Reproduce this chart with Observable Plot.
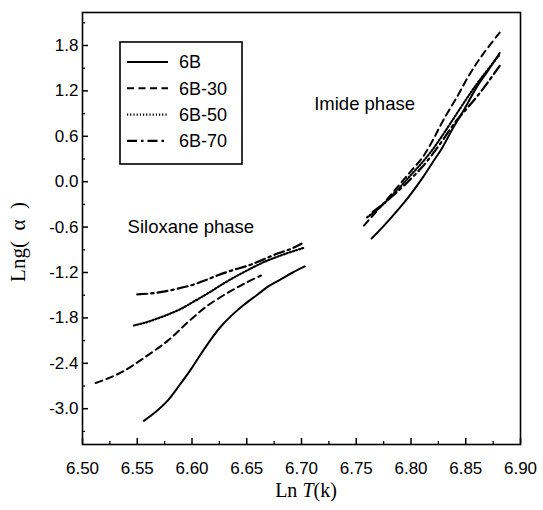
<!DOCTYPE html>
<html><head><meta charset="utf-8">
<script src="https://cdn.jsdelivr.net/npm/d3@7"></script>
<script src="https://cdn.jsdelivr.net/npm/@observablehq/plot@0.6"></script>
<style>body{margin:0;background:#fff}#chart{width:543px;height:510px}</style>
</head><body><div id="chart"></div>
<script>
// ---- data ----
const seriesNames = ["6B", "6B-30", "6B-50", "6B-70"];
const phaseNames = ["Siloxane phase", "Imide phase"];

// 6B
const x6B_sil = [6.556,6.567,6.578,6.588,6.599,6.608,6.617,6.626,6.636,6.648,6.660,6.670,6.681,6.692,6.703];
const y6B_sil = [-3.16,-3.04,-2.89,-2.70,-2.48,-2.28,-2.09,-1.92,-1.77,-1.62,-1.49,-1.38,-1.29,-1.20,-1.12];
const x6B_imi = [6.764,6.776,6.790,6.800,6.811,6.820,6.829,6.838,6.848,6.860,6.870,6.881];
const y6B_imi = [-0.75,-0.57,-0.34,-0.16,0.06,0.26,0.46,0.70,0.94,1.25,1.46,1.70];
// 6B-30
const x6B30_sil = [6.512,6.525,6.538,6.556,6.578,6.596,6.614,6.636,6.650,6.663];
const y6B30_sil = [-2.66,-2.59,-2.50,-2.33,-2.10,-1.86,-1.64,-1.44,-1.33,-1.24];
const x6B30_imi = [6.757,6.768,6.780,6.790,6.800,6.811,6.820,6.829,6.842,6.854,6.866,6.881];
const y6B30_imi = [-0.58,-0.40,-0.20,-0.03,0.14,0.33,0.55,0.80,1.12,1.43,1.69,1.97];
// 6B-50
const x6B50_sil = [6.547,6.558,6.568,6.579,6.590,6.602,6.614,6.626,6.639,6.652,6.666,6.684,6.703];
const y6B50_sil = [-1.90,-1.86,-1.81,-1.75,-1.68,-1.58,-1.48,-1.37,-1.26,-1.16,-1.06,-0.96,-0.87];
const x6B50_imi = [6.760,6.770,6.780,6.790,6.800,6.810,6.820,6.830,6.840,6.850,6.860,6.870,6.881];
const y6B50_imi = [-0.47,-0.36,-0.22,-0.07,0.09,0.25,0.43,0.64,0.86,1.08,1.29,1.48,1.68];
// 6B-70
const x6B70_sil = [6.550,6.560,6.571,6.585,6.599,6.611,6.623,6.637,6.651,6.665,6.678,6.690,6.700];
const y6B70_sil = [-1.49,-1.48,-1.46,-1.42,-1.37,-1.31,-1.24,-1.17,-1.11,-1.03,-0.95,-0.89,-0.82];
const x6B70_imi = [6.765,6.775,6.790,6.800,6.810,6.820,6.830,6.840,6.850,6.860,6.870,6.881];
const y6B70_imi = [-0.40,-0.29,-0.10,0.04,0.19,0.37,0.57,0.78,0.95,1.12,1.31,1.53];

// axis ticks
const xTicks = [6.50,6.55,6.60,6.65,6.70,6.75,6.80,6.85,6.90];
const xMinorTicks = [6.525,6.575,6.625,6.675,6.725,6.775,6.825,6.875];
const yTicks = [-3.0,-2.4,-1.8,-1.2,-0.6,0.0,0.6,1.2,1.8];
const yMinorTicks = [-3.3,-2.7,-2.1,-1.5,-0.9,-0.3,0.3,0.9,1.5,2.1];

// ---- build rows ----
const raw = {
  "6B": [[x6B_sil, y6B_sil], [x6B_imi, y6B_imi]],
  "6B-30": [[x6B30_sil, y6B30_sil], [x6B30_imi, y6B30_imi]],
  "6B-50": [[x6B50_sil, y6B50_sil], [x6B50_imi, y6B50_imi]],
  "6B-70": [[x6B70_sil, y6B70_sil], [x6B70_imi, y6B70_imi]]
};
const rows = [];
for (const s of seriesNames) {
  raw[s].forEach(([xs, ys], p) => xs.forEach((x, i) => rows.push({series: s, phase: phaseNames[p], x, y: ys[i]})));
}
const styles = {
  "6B": {dash: null, width: 2},
  "6B-30": {dash: "7,4.5", width: 2},
  "6B-50": {dash: "1.2,2", width: 2.2},
  "6B-70": {dash: "10,4,2.5,4", width: 2.2}
};

const sans = "'Liberation Sans', Arial, sans-serif";
const serif = "'Liberation Serif', 'Times New Roman', serif";

const lineMarks = seriesNames.map(s => Plot.line(rows.filter(d => d.series === s), {
  x: "x", y: "y", z: "phase", curve: "catmull-rom",
  stroke: "black", strokeWidth: styles[s].width, strokeDasharray: styles[s].dash
}));

const chart = Plot.plot({
  width: 543, height: 510,
  marginLeft: 82, marginRight: 23, marginTop: 12, marginBottom: 66,
  style: {fontFamily: sans, fontSize: "17px", color: "black", background: "white"},
  x: {domain: [6.5, 6.9]},
  y: {domain: [-3.473, 2.236]},
  marks: [
    Plot.axisX(xTicks, {tickSize: -6, tickPadding: 23, tickFormat: d => d.toFixed(2), label: null, fontSize: 17, strokeWidth: 1.5}),
    Plot.axisX(xMinorTicks, {tickSize: -3, tickFormat: () => "", label: null, strokeWidth: 1.3}),
    Plot.axisY(yTicks, {tickSize: -6, tickPadding: 10, tickFormat: d => d.toFixed(1), label: null, fontSize: 17, strokeWidth: 1.5}),
    Plot.axisY(yMinorTicks, {tickSize: -3, tickFormat: () => "", label: null, strokeWidth: 1.3}),
    ...lineMarks,
    Plot.frame({stroke: "black", strokeWidth: 1.6}),
    Plot.text([phaseNames[0]], {x: 6.5412, y: -0.6, text: d => d, textAnchor: "start", fontSize: 18.5, fontFamily: sans}),
    Plot.text([phaseNames[1]], {x: 6.7116, y: 1.03, text: d => d, textAnchor: "start", fontSize: 18.5, fontFamily: sans})
  ]
});
document.getElementById("chart").appendChild(chart);

// ---- legend and axis titles ----
const svg = d3.select(chart);
const lg = svg.append("g");
lg.append("rect").attr("x", 120).attr("y", 42).attr("width", 122).attr("height", 122)
  .attr("fill", "white").attr("stroke", "black").attr("stroke-width", 1.6);
seriesNames.forEach((s, i) => {
  const yy = 62 + i * 26.3;
  lg.append("line").attr("x1", 127).attr("x2", 168).attr("y1", yy).attr("y2", yy)
    .attr("stroke", "black").attr("stroke-width", styles[s].width)
    .attr("stroke-dasharray", styles[s].dash);
  lg.append("text").attr("x", 179).attr("y", yy).attr("dy", "0.36em")
    .attr("text-anchor", "start")
    .attr("font-family", sans).attr("font-size", 18).text(s);
});

const xt = svg.append("text").attr("x", 306).attr("y", 497).attr("text-anchor", "middle")
  .attr("font-family", serif).attr("font-size", 20);
xt.append("tspan").text("Ln ");
xt.append("tspan").attr("font-style", "italic").text("T");
xt.append("tspan").text("(k)");

svg.append("text").attr("transform", "translate(25,242) rotate(-90)")
  .attr("text-anchor", "middle").attr("font-family", serif).attr("font-size", 21)
  .attr("xml:space", "preserve").text("Lng(  α  )");
</script>
</body></html>
